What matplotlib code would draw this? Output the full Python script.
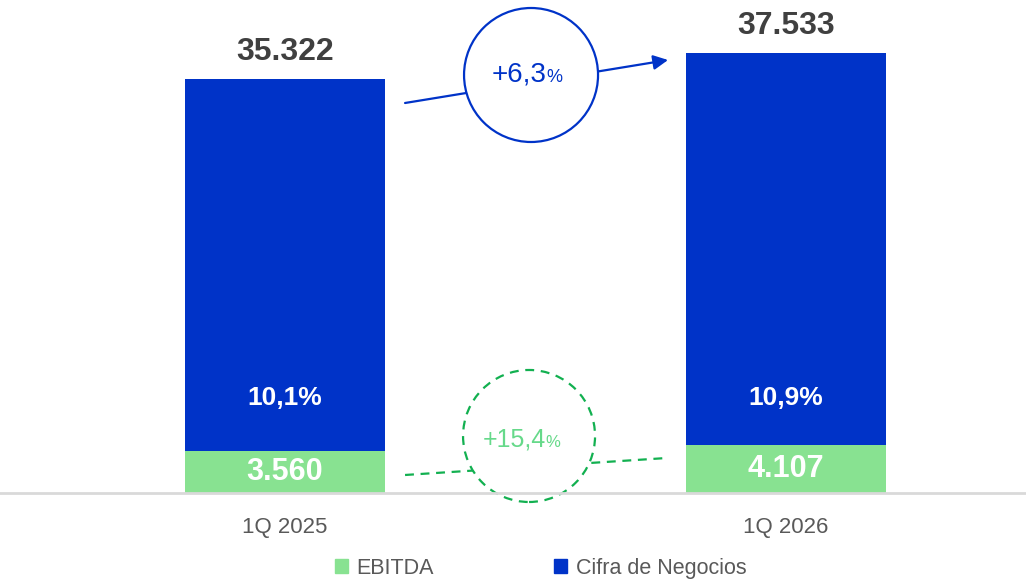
import matplotlib.pyplot as plt
from matplotlib.patches import Ellipse, Patch

plt.rcParams["font.family"] = ["Liberation Sans", "DejaVu Sans"]

periodos = ["1Q 2025", "1Q 2026"]
cifra_negocios = [35322, 37533]
ebitda = [3560, 4107]
margen = ["10,1%", "10,9%"]
crec_cifra = "+6,3"
crec_ebitda = "+15,4"

azul = "#0033C8"
verde = "#88E291"
verde_linea = "#12B050"
verde_texto = "#66D98A"
gris = "#595959"

fig = plt.figure(figsize=(10.26, 5.83), dpi=100)
ax = fig.add_axes([0, 0.1544, 1, 0.8456])

x = [0, 1]
ancho = 0.4
ax.bar(x, cifra_negocios, width=ancho, color=azul, zorder=2)
ax.bar(x, ebitda, width=ancho, color=verde, zorder=3)

ax.set_xlim(-0.569, 1.479)
ax.set_ylim(0, 42100)

# escala en pixeles para pasar de px a datos
px_x = 501.0
px_y = 493.0 / 42100


def dx(px):
    return (px - 285) / px_x


def dy(py):
    return (493 - py) / px_y


for i in x:
    ax.annotate(f"{cifra_negocios[i]:,}".replace(",", "."), (i, cifra_negocios[i]),
                xytext=(0, 9), textcoords="offset points", ha="center", va="bottom",
                fontsize=23, fontweight="bold", color="#404040")
    ax.text(i, dy(398), margen[i], ha="center", va="center", fontsize=19,
            fontweight="bold", color="white", zorder=4)
    ax.text(i, ebitda[i] / 2, f"{ebitda[i]:,}".replace(",", "."), ha="center",
            va="center", fontsize=22, fontweight="bold", color="white", zorder=4)

# flecha y circulo de cifra de negocios
ax.annotate("", xy=(dx(668), dy(60)), xytext=(dx(405), dy(103)),
            arrowprops=dict(arrowstyle="-|>", color=azul, lw=1.6, mutation_scale=22,
                            shrinkA=0, shrinkB=0), zorder=5)
r = 67
ax.add_patch(Ellipse((dx(531), dy(75)), 2 * r / px_x, 2 * r / px_y, facecolor="white",
                     edgecolor=azul, lw=1.6, zorder=6, clip_on=False))
ax.annotate(crec_cifra, (dx(531), dy(75)), ha="right", va="center", fontsize=20,
            color=azul, zorder=7, xytext=(11, 0), textcoords="offset points")
ax.annotate("%", (dx(531), dy(75)), ha="left", va="center", fontsize=13,
            color=azul, zorder=7, xytext=(11, -2), textcoords="offset points")

# linea discontinua y circulo de ebitda
ax.plot([dx(405), dx(667)], [dy(475), dy(458)], ls=(0, (4, 3)), color=verde_linea,
        lw=1.6, zorder=5)
ax.add_patch(Ellipse((dx(529), dy(436)), 2 * 66 / px_x, 2 * 66 / px_y, facecolor="white",
                     edgecolor=verde_linea, lw=1.6, ls=(0, (4, 3)), zorder=6, clip_on=False))
ax.annotate(crec_ebitda, (dx(529), dy(440)), ha="right", va="center", fontsize=18,
            color=verde_texto, zorder=7, xytext=(12, 0), textcoords="offset points")
ax.annotate("%", (dx(529), dy(440)), ha="left", va="center", fontsize=12,
            color=verde_texto, zorder=7, xytext=(12, -2), textcoords="offset points")

for s in ["top", "right", "left"]:
    ax.spines[s].set_visible(False)
ax.spines["bottom"].set_color("#D9D9D9")
ax.spines["bottom"].set_linewidth(2)
ax.spines["bottom"].set_zorder(8)
ax.set_yticks([])
ax.set_xticks(x)
ax.set_xticklabels(periodos, fontsize=16, color=gris)
ax.tick_params(axis="x", length=0, pad=17)

handles = [Patch(color=verde, label="EBITDA"), Patch(color=azul, label="Cifra de Negocios")]
fig.legend(handles=handles, loc="lower center", bbox_to_anchor=(0.527, -0.026), ncol=2,
           frameon=False, fontsize=15.5, handlelength=0.6, handleheight=0.6,
           handletextpad=0.4, columnspacing=5.6, labelcolor=gris)

fig.savefig("out.png", dpi=100)
